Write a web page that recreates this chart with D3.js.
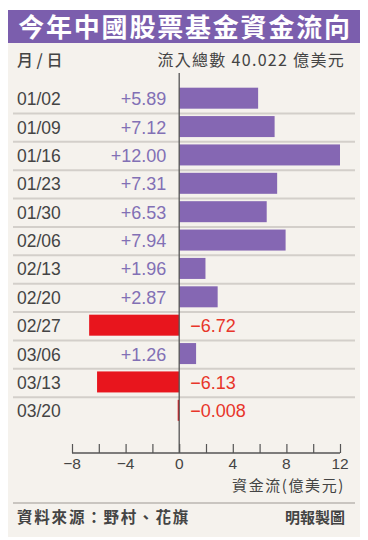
<!DOCTYPE html>
<html><head><meta charset="utf-8">
<script src="https://cdn.jsdelivr.net/npm/d3@7"></script>
<style>
html,body{margin:0;padding:0;background:#fff;}
svg{display:block;}
</style></head>
<body>
<svg id="c" width="368" height="540"></svg>
<script>
const title = "今年中國股票基金資金流向";
const headerLeft = "月 / 日";
const headerRight = "流入總數 40.022 億美元";
const dates = ["01/02","01/09","01/16","01/23","01/30","02/06","02/13","02/20","02/27","03/06","03/13","03/20"];
const flows = [5.89, 7.12, 12.00, 7.31, 6.53, 7.94, 1.96, 2.87, -6.72, 1.26, -6.13, -0.008];
const flowLabels = ["+5.89","+7.12","+12.00","+7.31","+6.53","+7.94","+1.96","+2.87","\u22126.72","+1.26","\u22126.13","\u22120.008"];
const tickValues = [-8,-6,-4,-2,0,2,4,6,8,10,12];
const tickLabels = {"-8":"\u22128","-4":"\u22124","0":"0","4":"4","8":"8","12":"12"};
const axisTitle = "資金流(億美元)";
const source = "資料來源：野村、花旗";
const credit = "明報製圖";

const svg = d3.select("#c");
const CJK = "'Noto Sans CJK TC','Noto Sans CJK SC',sans-serif";
const NUM = "'Liberation Sans',Arial,'Noto Sans CJK TC',sans-serif";
const purple = "#8567b3", red = "#e8151d";

// panel
svg.append("rect").attr("x",8).attr("y",43).attr("width",352).attr("height",494).attr("fill","#f5f2ed");
svg.append("rect").attr("x",8).attr("y",10).attr("width",352).attr("height",33).attr("fill","#7b5ead");
svg.append("text").attr("x",185).attr("y",36.5).attr("text-anchor","middle")
  .attr("font-family",CJK).attr("font-weight",700).attr("font-size",26).attr("letter-spacing",1.8)
  .attr("fill","#fff").text(title);

svg.append("text").attr("x",17).attr("y",66).attr("font-family",CJK).attr("font-weight",500)
  .attr("font-size",16).attr("fill","#444").text(headerLeft);
svg.append("text").attr("x",345).attr("y",66).attr("text-anchor","end").attr("font-family",CJK)
  .attr("font-size",16).attr("letter-spacing",1.3).attr("fill","#444").text(headerRight);

const x = d3.scaleLinear().domain([-8,12]).range([72,340]);
const y = d3.scaleBand().domain(dates).range([85,425.5]).paddingInner(0).paddingOuter(0);
const bw = y.bandwidth();

// row separators
const sepIdx = dates.slice(0, dates.length-1);
svg.append("g").selectAll("line").data(sepIdx).join("line")
  .attr("x1",13).attr("x2",355)
  .attr("y1",d=>y(d)+bw).attr("y2",d=>y(d)+bw)
  .attr("stroke","#d3cfca").attr("stroke-width",2);

// bars
const barH = 21;
svg.append("g").selectAll("rect").data(flows).join("rect")
  .attr("x",d=>Math.min(x(d),x(0)) - (d<0 && x(0)-x(d)<1.5 ? 1.5 - (x(0)-x(d)) : 0))
  .attr("width",d=>Math.max(Math.abs(x(d)-x(0)),1.5))
  .attr("y",(d,i)=>y(dates[i])+ (bw-barH)/2 - 1)
  .attr("height",barH)
  .attr("fill",d=>d>=0?purple:red);

// zero line
svg.append("line").attr("x1",x(0)).attr("x2",x(0)).attr("y1",73).attr("y2",453)
  .attr("stroke","#555").attr("stroke-width",1.3);

// category labels
svg.append("g").selectAll("text").data(dates).join("text")
  .attr("x",17).attr("y",d=>y(d)+bw/2+6)
  .attr("font-family",NUM).attr("font-size",17.5).attr("fill","#444").text(d=>d);

// value labels
svg.append("g").selectAll("text").data(flows).join("text")
  .attr("x",d=>d>=0?x(0)-13:x(0)+11)
  .attr("text-anchor",d=>d>=0?"end":"start")
  .attr("y",(d,i)=>y(dates[i])+bw/2+6)
  .attr("font-family",NUM).attr("font-size",18)
  .attr("fill",d=>d>=0?"#8270b5":"#e8352a")
  .text((d,i)=>flowLabels[i]);

// axis
const axis = d3.axisTop(x).tickValues(tickValues).tickSize(9).tickFormat("");
const ag = svg.append("g").attr("transform","translate(0,453)").call(axis);
ag.select(".domain").attr("stroke","#555").attr("stroke-width",1.5).attr("d",`M${x(-8)},0H${x(12)}`);
ag.selectAll(".tick line").attr("stroke","#555").attr("stroke-width",1.2);
svg.append("g").selectAll("text").data(tickValues.filter(v=>tickLabels[String(v)]!==undefined)).join("text")
  .attr("x",d=>x(d)).attr("y",468.5).attr("text-anchor","middle")
  .attr("font-family",NUM).attr("font-size",15.5).attr("fill","#444")
  .text(d=>tickLabels[String(d)]);
svg.append("text").attr("x",345).attr("y",491).attr("text-anchor","end")
  .attr("font-family",CJK).attr("font-size",15).attr("letter-spacing",1.6).attr("fill","#444").text(axisTitle);

// footer
svg.append("line").attr("x1",13).attr("x2",355).attr("y1",503).attr("y2",503)
  .attr("stroke","#c9c5c0").attr("stroke-width",2);
svg.append("text").attr("x",17).attr("y",523).attr("font-family",CJK).attr("font-weight",700)
  .attr("font-size",15.5).attr("letter-spacing",1.8).attr("fill","#444").text(source);
svg.append("text").attr("x",345).attr("y",523).attr("text-anchor","end").attr("font-family",CJK)
  .attr("font-weight",700).attr("font-size",15).attr("fill","#444").text(credit);
</script>
</body></html>
